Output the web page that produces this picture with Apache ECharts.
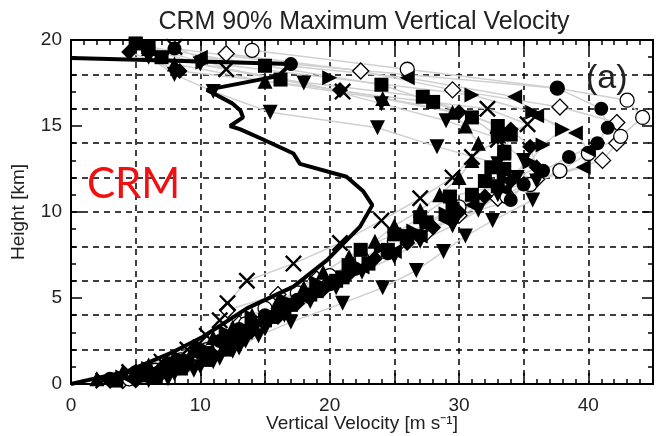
<!DOCTYPE html>
<html>
<head>
<meta charset="utf-8">
<script src="https://cdn.jsdelivr.net/npm/echarts@6/dist/echarts.min.js"></script>
<style>html,body{margin:0;padding:0;background:#fff;}#chart{width:656px;height:436px;}</style>
</head>
<body>
<div id="chart"></div>
<script>
// ---- data ----
const xTicks = [0, 10, 20, 30, 40];
const yTicks = [0, 5, 10, 15, 20];

// model profiles: heights [km] and 90% max vertical velocity [m/s]
const hgtSquare  = [0.2, 0.5, 0.9, 1.3, 1.8, 2.4, 3.0, 3.7, 4.4, 5.2, 6.0, 6.9, 7.8, 8.7, 9.7, 10.9, 11.5, 12.5, 13.5, 14.5, 15.0, 16.7, 17.7, 19.0, 19.8];
const velSquare  = [3.5, 5.5, 7.5, 9, 10.5, 12, 13.5, 15, 16.5, 18.5, 20.5, 21.5, 22.4, 25, 27, 29.3, 33, 33.5, 33.5, 34, 33, 27.2, 16.2, 7, 5];
const hgtTriUp   = [0.3, 0.7, 1.1, 1.6, 2.1, 2.7, 3.3, 4.0, 4.8, 5.6, 6.5, 7.4, 8.3, 9.2, 10.1, 11.0, 12.0, 13.0, 14.0, 15.0, 15.8, 16.6, 17.6, 18.6, 19.5];
const velTriUp   = [2, 4, 6, 8, 9.5, 11, 12.5, 14, 16, 18, 19.5, 21.5, 23.5, 25, 27, 28.5, 30, 31, 31.5, 30.5, 29.5, 24.1, 15, 8, 6];
const hgtTriDown = [0.2, 0.6, 1.0, 1.5, 2.1, 2.8, 3.6, 4.7, 5.6, 6.6, 7.7, 8.6, 9.5, 10.7, 11.8, 12.8, 13.8, 14.9, 15.8, 17.0, 18.0, 19.0];
const velTriDown = [6, 8, 10, 11.5, 13, 14.5, 17, 21, 24.1, 26.7, 28.8, 30.5, 32.6, 35.7, 36, 33, 28.3, 23.7, 15.4, 11, 8, 6];
const hgtTriLeft = [0.3, 0.8, 1.3, 1.9, 2.6, 3.3, 4.1, 5.0, 5.9, 6.8, 7.7, 8.6, 9.5, 10.4, 11.3, 12.6, 13.6, 14.6, 15.6, 16.7, 17.8, 19.0];
const velTriLeft = [4.5, 6.5, 8.5, 10.5, 12, 13.5, 15.5, 18, 20, 22.5, 25, 27, 29, 31, 33.5, 39.6, 40, 39, 36, 34.3, 26, 10];
const hgtTriRight = [0.4, 0.9, 1.5, 2.2, 3.0, 3.9, 4.9, 5.9, 6.9, 7.9, 8.9, 9.9, 10.9, 11.9, 12.9, 13.9, 14.8, 15.8, 16.8, 17.8, 18.7, 19.6];
const velTriRight = [4, 6, 8.5, 10, 12, 14, 16.5, 19, 21.5, 24, 26.5, 29, 31.5, 33.5, 35.5, 36.5, 38, 35.7, 31, 20, 10.2, 6];
const hgtDiamond = [0.2, 0.6, 1.1, 1.7, 2.4, 3.1, 3.9, 4.7, 5.5, 6.4, 7.3, 8.2, 9.1, 10.0, 10.9, 11.8, 12.6, 13.8, 14.8, 15.8, 17.1, 18.2, 19.3];
const velDiamond = [5, 7, 9, 11, 12.5, 14, 16, 17.5, 19.5, 21.5, 23.5, 26, 28, 30, 32, 34, 36, 35.5, 34, 30, 20.8, 8.4, 4.5];
const hgtCircle  = [0.3, 0.7, 1.2, 1.8, 2.5, 3.2, 4.0, 4.9, 5.8, 6.7, 7.6, 8.6, 9.6, 10.7, 11.6, 12.4, 13.2, 14.0, 14.9, 16.0, 17.2, 18.6, 19.5];
const velCircle  = [3, 5, 7.5, 10, 11.5, 13, 15, 17.5, 20, 22, 24.5, 27, 29.5, 34, 35, 36.5, 38.5, 40.7, 41.5, 41, 37.6, 17, 8];
const hgtOpenDia = [0.2, 0.6, 1.0, 1.5, 2.1, 2.8, 3.5, 4.3, 5.2, 6.1, 7.0, 7.9, 8.8, 9.8, 10.8, 11.9, 13.0, 14.0, 15.2, 16.1, 17.1, 18.2, 19.2];
const velOpenDia = [4, 6, 8, 9.5, 11, 12.5, 13, 12.1, 16, 19, 22, 25, 27.5, 30, 33, 36, 41.1, 42.2, 42.2, 37.8, 29.5, 22.4, 12];
const hgtCross   = [0.2, 0.7, 1.3, 2.0, 2.8, 3.7, 4.7, 6.0, 7.0, 8.2, 9.5, 10.8, 12.0, 13.2, 14.2, 15.1, 16.0, 17.0, 18.3, 19.6];
const velCross   = [2.5, 4.5, 7, 9, 10.5, 11.5, 12.1, 13.6, 17.2, 20.8, 24, 27, 29.5, 31, 33, 35.3, 32.2, 21, 12, 8];
const hgtOpenCirc = [0.3, 0.8, 1.4, 2.0, 2.7, 3.5, 4.4, 5.3, 6.3, 7.3, 8.3, 9.3, 10.3, 10.9, 11.6, 12.4, 13.4, 14.4, 15.5, 16.5, 17.2, 18.3, 19.4];
const velOpenCirc = [4.5, 6.5, 8.5, 10.5, 12, 13.5, 15, 17.5, 20, 22.5, 25, 27.5, 30, 33.7, 35.5, 37.8, 40, 42.5, 44.2, 43, 37.6, 26, 14];
const hgtSquare2 = [0.4, 0.9, 1.4, 2.0, 2.6, 3.2, 3.9, 4.6, 5.4, 6.2, 7.0, 7.8, 8.6, 9.4, 10.2, 11.0, 11.8, 12.6, 13.4, 14.4, 15.5, 16.4, 17.4, 18.5, 19.6];
const velSquare2 = [6.5, 8.5, 10.5, 12, 13, 14, 15.5, 17, 19, 21, 23, 24.5, 26, 27.5, 29.5, 31, 32, 32.5, 33.5, 33, 31, 28, 24, 15, 6];
const hgtTriDown2 = [0.3, 0.8, 1.3, 1.9, 2.5, 3.2, 4.0, 4.8, 5.6, 6.5, 7.4, 8.3, 9.2, 10.1, 11.0, 12.0, 13.0, 14.3, 15.3, 16.3, 17.5, 18.6, 19.7];
const velTriDown2 = [7.5, 9.5, 11, 12.5, 13.5, 15, 16.5, 18.5, 20.5, 22.5, 25, 27, 29.5, 31.5, 33, 34.5, 35, 33, 29, 24, 18, 10, 5];

// CRM profile (thick black line)
const crmVel = [0, 2.3, 4.3, 7.7, 10.2, 13.6, 17.2, 19.8, 22.35, 23.3, 22.6, 21.3, 17.7, 17.2, 14.9, 13.1, 12.3, 13.3, 13.1, 12.5, 11.0, 10.5, 16.0, 17.0, 8.0, 0];
const crmHgt = [0, 0.4, 0.72, 1.79, 2.75, 4.4, 5.66, 7.2, 9.15, 10.4, 11.2, 12.05, 12.8, 13.4, 14.2, 14.8, 15.0, 15.5, 15.9, 16.3, 16.9, 17.1, 17.9, 18.6, 18.8, 18.95];

// ---- styles ----
const FONT = 'Liberation Sans';
const SYM = {
  rect: 'rect',
  up: 'triangle',
  down: 'path://M0,0L10,0L5,9Z',
  left: 'path://M10,0L10,10L1,5Z',
  right: 'path://M0,0L0,10L9,5Z',
  diamond: 'diamond',
  circle: 'circle',
  cross: 'path://M0,1L1,0L5,4L9,0L10,1L6,5L10,9L9,10L5,6L1,10L0,9L4,5Z'
};
// hollow markers first so the filled ones sit on top of them
const models = [
  { hgt: hgtOpenDia,  vel: velOpenDia,  sym: SYM.diamond, hollow: true,  size: 16 },
  { hgt: hgtOpenCirc, vel: velOpenCirc, sym: SYM.circle,  hollow: true,  size: 14 },
  { hgt: hgtSquare,   vel: velSquare,   sym: SYM.rect,    hollow: false, size: 14 },
  { hgt: hgtTriUp,    vel: velTriUp,    sym: SYM.up,      hollow: false, size: 15 },
  { hgt: hgtTriDown,  vel: velTriDown,  sym: SYM.down,    hollow: false, size: 15 },
  { hgt: hgtTriLeft,  vel: velTriLeft,  sym: SYM.left,    hollow: false, size: 15 },
  { hgt: hgtTriRight, vel: velTriRight, sym: SYM.right,   hollow: false, size: 15 },
  { hgt: hgtDiamond,  vel: velDiamond,  sym: SYM.diamond, hollow: false, size: 16 },
  { hgt: hgtCircle,   vel: velCircle,   sym: SYM.circle,  hollow: false, size: 14 },
  { hgt: hgtSquare2,  vel: velSquare2,  sym: SYM.rect,    hollow: false, size: 14 },
  { hgt: hgtTriDown2, vel: velTriDown2, sym: SYM.down,    hollow: false, size: 15 },
  { hgt: hgtCross,    vel: velCross,    sym: SYM.cross,   hollow: false, size: 17 }
];

const series = [];
models.forEach(m => {
  series.push({
    type: 'line', data: m.vel.map((v, i) => [v, m.hgt[i]]),
    showSymbol: false, symbol: 'none', silent: true, z: 1,
    lineStyle: { color: '#d0d0d0', width: 1.5 }
  });
});
models.forEach(m => {
  series.push({
    type: 'scatter', data: m.vel.map((v, i) => [v, m.hgt[i]]),
    symbol: m.sym, symbolSize: m.size, z: 3,
    itemStyle: m.hollow
      ? { color: '#fff', borderColor: '#000', borderWidth: 1.3, opacity: 1 }
      : { color: '#000', opacity: 1 }
  });
});
series.push({
  type: 'line', data: crmVel.map((v, i) => [v, crmHgt[i]]),
  showSymbol: false, symbol: 'none', z: 5,
  lineStyle: { color: '#000', width: 4 }
});

const tickStyle = { color: '#000', width: 1.5 };
const axisCommonX = {
  type: 'value', min: 0, max: 45, interval: 5,
  axisLine: { onZero: false, lineStyle: { color: '#000', width: 2 } },
  axisTick: { inside: true, length: 11, lineStyle: tickStyle },
  minorTick: { show: true, splitNumber: 5, length: 5, lineStyle: tickStyle },
  splitLine: { show: false }
};
const axisCommonY = {
  type: 'value', min: 0, max: 20, interval: 5,
  axisLine: { onZero: false, lineStyle: { color: '#000', width: 2 } },
  axisTick: { inside: true, length: 11, lineStyle: tickStyle },
  minorTick: { show: true, splitNumber: 5, length: 5, lineStyle: tickStyle },
  splitLine: { show: false }
};
const dashed = { show: true, lineStyle: { color: '#000', width: 1.5, type: [6, 5] } };
const hiddenAxis = { axisLine: { show: false }, axisTick: { show: false }, axisLabel: { show: false } };

const option = {
  animation: false,
  backgroundColor: '#fff',
  title: {
    text: 'CRM 90% Maximum Vertical Velocity',
    left: 359, top: 5, textAlign: 'center',
    textStyle: { fontFamily: FONT, fontSize: 25, fontWeight: 'normal', color: '#222' }
  },
  grid: { left: 71, right: 3, top: 40, bottom: 52, containLabel: false, outerBoundsMode: 'none' },
  xAxis: [
    Object.assign({}, axisCommonX, {
      position: 'bottom',
      name: 'Vertical Velocity [m s\u207B\u00B9]',
      nameLocation: 'middle', nameGap: 40, nameMoveOverlap: false,
      nameTextStyle: { fontFamily: FONT, fontSize: 19, color: '#222', verticalAlign: 'middle' },
      axisLabel: { fontFamily: FONT, fontSize: 19, color: '#222', margin: 12,
        formatter: v => (xTicks.indexOf(v) >= 0 ? String(v) : ''), showMaxLabel: false }
    }),
    Object.assign({}, axisCommonX, { position: 'top', axisLabel: { show: false } }),
    Object.assign({ type: 'value', min: 0, max: 45, interval: 5, position: 'bottom', splitLine: dashed }, hiddenAxis)
  ],
  yAxis: [
    Object.assign({}, axisCommonY, {
      position: 'left',
      name: 'Height [km]', nameLocation: 'middle', nameGap: 43, nameRotate: 90, nameMoveOverlap: false,
      nameTextStyle: { fontFamily: FONT, fontSize: 19, color: '#222' },
      axisLabel: { fontFamily: FONT, fontSize: 19, color: '#222', margin: 9,
        formatter: v => (yTicks.indexOf(v) >= 0 ? String(v) : '') }
    }),
    Object.assign({}, axisCommonY, { position: 'right', axisLabel: { show: false } }),
    Object.assign({ type: 'value', min: 0, max: 20, interval: 2, position: 'left', splitLine: dashed }, hiddenAxis)
  ],
  graphic: [
    { type: 'text', left: 87, top: 163, z: 10,
      style: { text: 'CRM', font: '42px Lato', fill: '#f01010' } },
    { type: 'text', left: 586, top: 62, z: 10,
      style: { text: '(a)', font: '34px "Liberation Sans"', fill: '#222' } }
  ],
  series: series
};

const chart = echarts.init(document.getElementById('chart'), null, { renderer: 'canvas' });
chart.setOption(option);
</script>
</body>
</html>
